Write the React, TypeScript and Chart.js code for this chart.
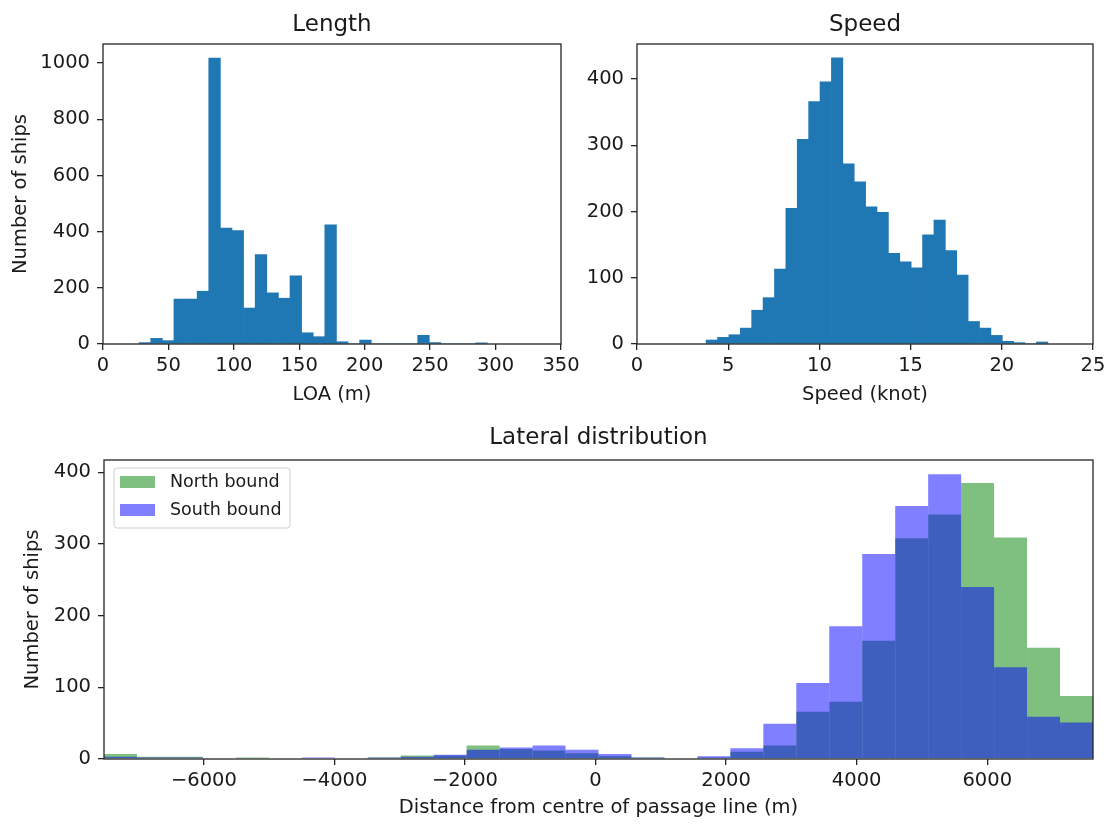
import React, { useEffect, useRef } from 'react';
import { Chart, registerables } from 'chart.js';

Chart.register(...registerables);

const FONT = 'DejaVu Sans';
const TEXT = '#1a1a1a';
const SPINE = '#262626';
const TICK_SIZE = 19.5;
const TITLE_SIZE = 23;
const LEGEND_SIZE = 17.5;

// ---------- Length histogram ----------
const lengthBinStart = 27.6;
const lengthBinWidth = 8.87;
const lengthCounts = [5, 20, 12, 160, 160, 188, 1018, 413, 404, 128, 318, 182, 163, 243, 40, 26, 424, 8, 0, 14, 0, 0, 0, 0, 31, 5, 0, 0, 0, 4];
const lengthXTicks = [0, 50, 100, 150, 200, 250, 300, 350];
const lengthYTicks = [0, 200, 400, 600, 800, 1000];

// ---------- Speed histogram ----------
const speedBinStart = 3.79;
const speedBinWidth = 0.6245;
const speedCounts = [6, 10, 14, 24, 51, 70, 113, 205, 309, 366, 396, 432, 272, 245, 207, 199, 137, 124, 115, 165, 187, 141, 104, 34, 24, 13, 4, 2, 0, 3];
const speedXTicks = [0, 5, 10, 15, 20, 25];
const speedYTicks = [0, 100, 200, 300, 400];

// ---------- Lateral distribution ----------
const lateralBinStart = -7530;
const lateralBinWidth = 505;
const northCounts = [7, 3, 3, 0, 2, 0, 1, 0, 2, 5, 5, 19, 14, 12, 8, 4, 2, 1, 2, 10, 19, 66, 80, 165, 308, 341, 385, 309, 155, 88];
const southCounts = [3, 2, 2, 0, 0, 0, 2, 1, 2, 3, 6, 13, 16, 19, 13, 7, 2, 1, 4, 15, 49, 106, 185, 286, 353, 397, 240, 128, 59, 51];
const lateralXTicks = [-6000, -4000, -2000, 0, 2000, 4000, 6000];
const lateralYTicks = [0, 100, 200, 300, 400];

const centers = (start: number, width: number, n: number) =>
  Array.from({ length: n }, (_, i) => start + (i + 0.5) * width);

const toPoints = (start: number, width: number, counts: number[]) => {
  const c = centers(start, width, counts.length);
  return counts.map((y, i) => ({ x: c[i], y }));
};

const fmt = (v: number) => (v < 0 ? '\u2212' + Math.abs(v) : String(v));

const framePlugin = {
  id: 'frame',
  afterDatasetsDraw(chart: any) {
    const { ctx, chartArea: a } = chart;
    ctx.save();
    ctx.strokeStyle = SPINE;
    ctx.lineWidth = 1.3;
    ctx.strokeRect(a.left, a.top, a.right - a.left, a.bottom - a.top);
    ctx.restore();
  },
};

const boxLegendPlugin = {
  id: 'boxLegend',
  afterDraw(chart: any, _args: any, opts: any) {
    if (!opts || !opts.display) return;
    const { ctx, chartArea: a } = chart;
    const x = a.left + 10;
    const y = a.top + 8;
    const w = 176;
    const h = 60;
    ctx.save();
    ctx.beginPath();
    if (ctx.roundRect) ctx.roundRect(x, y, w, h, 3);
    else ctx.rect(x, y, w, h);
    ctx.fillStyle = 'rgba(255,255,255,0.8)';
    ctx.fill();
    ctx.strokeStyle = '#d0d0d0';
    ctx.lineWidth = 1;
    ctx.stroke();
    const ds = chart.data.datasets;
    ds.forEach((d: any, i: number) => {
      const cy = y + 14 + i * 28;
      ctx.fillStyle = d.backgroundColor;
      ctx.fillRect(x + 6, cy - 6, 35, 12);
      ctx.fillStyle = TEXT;
      ctx.font = `${LEGEND_SIZE}px "${FONT}"`;
      ctx.textBaseline = 'middle';
      ctx.textAlign = 'left';
      ctx.fillText(d.label, x + 56, cy);
    });
    ctx.restore();
  },
};

type Box = { left: number; top: number; width: number; height: number };
type Area = { left: number; top: number; right: number; bottom: number };

type HistProps = {
  box: Box;
  area: Area;
  title: string;
  titleCenterY: number;
  xLabel: string;
  xLabelCenterY: number;
  yLabel?: string;
  yLabelCenterX?: number;
  xMin: number;
  xMax: number;
  xTicks: number[];
  yMax: number;
  yTicks: number[];
  datasets: any[];
  legend?: boolean;
};

function Histogram(p: HistProps) {
  const ref = useRef<HTMLCanvasElement>(null);
  useEffect(() => {
    if (!ref.current) return;
    const lh = TICK_SIZE * 1.2;
    const tlh = TITLE_SIZE * 1.2;
    const titleTop = p.titleCenterY - p.box.top - tlh / 2;
    const titleBottom = p.area.top - p.box.top - titleTop - tlh;
    const yWidth = p.area.left - p.box.left;
    const xHeight = p.box.top + p.box.height - p.area.bottom;
    const xTitleBottom = p.box.top + p.box.height - lh / 2 - p.xLabelCenterY;
    const yTitleTop = (p.yLabelCenterX ?? 0) - p.box.left - lh / 2;
    const tickFont = { family: FONT, size: TICK_SIZE };
    const grid = {
      display: true,
      drawOnChartArea: false,
      drawTicks: true,
      tickLength: 6,
      color: SPINE,
      lineWidth: 1.3,
    };
    const chart = new Chart(ref.current, {
      type: 'bar',
      data: { datasets: p.datasets },
      plugins: [framePlugin, boxLegendPlugin],
      options: {
        animation: false,
        responsive: false,
        maintainAspectRatio: false,
        events: [],
        layout: {
          padding: {
            left: 0,
            top: 0,
            right: p.box.width - (p.area.right - p.box.left),
            bottom: 0,
          },
        },
        datasets: {
          bar: {
            grouped: false,
            barPercentage: 1,
            categoryPercentage: 1,
            borderWidth: 0,
          },
        },
        plugins: {
          legend: { display: false },
          tooltip: { enabled: false },
          title: {
            display: true,
            text: p.title,
            fullSize: false,
            color: TEXT,
            font: { family: FONT, size: TITLE_SIZE, weight: 'normal' },
            padding: { top: titleTop, bottom: titleBottom },
          },
          boxLegend: { display: !!p.legend },
        } as any,
        scales: {
          x: {
            type: 'linear',
            min: p.xMin,
            max: p.xMax,
            offset: false,
            grid: { ...grid, offset: false },
            border: { display: false },
            afterBuildTicks: (s: any) => {
              s.ticks = p.xTicks.map((v) => ({ value: v }));
            },
            afterFit: (s: any) => {
              s.height = xHeight;
            },
            ticks: {
              color: TEXT,
              font: tickFont,
              padding: 4.5,
              maxRotation: 0,
              autoSkip: false,
              callback: (v: any) => fmt(Number(v)),
            },
            title: {
              display: true,
              text: p.xLabel,
              color: TEXT,
              font: tickFont,
              padding: { top: 0, bottom: xTitleBottom },
            },
          },
          y: {
            type: 'linear',
            min: 0,
            max: p.yMax,
            grid,
            border: { display: false },
            afterBuildTicks: (s: any) => {
              s.ticks = p.yTicks.map((v) => ({ value: v }));
            },
            afterFit: (s: any) => {
              s.width = yWidth;
            },
            ticks: {
              color: TEXT,
              font: tickFont,
              padding: 7,
              autoSkip: false,
              callback: (v: any) => fmt(Number(v)),
            },
            title: {
              display: !!p.yLabel,
              text: p.yLabel || '',
              color: TEXT,
              font: tickFont,
              padding: { top: yTitleTop, bottom: 0 },
            },
          },
        } as any,
      } as any,
    });
    return () => chart.destroy();
  }, []);
  return (
    <canvas
      ref={ref}
      width={p.box.width}
      height={p.box.height}
      style={{
        position: 'absolute',
        left: p.box.left,
        top: p.box.top,
        width: p.box.width,
        height: p.box.height,
      }}
    />
  );
}

export default function App() {
  const lengthData = [
    {
      label: 'Length',
      data: toPoints(lengthBinStart, lengthBinWidth, lengthCounts),
      backgroundColor: '#1f77b4',
    },
  ];
  const speedData = [
    {
      label: 'Speed',
      data: toPoints(speedBinStart, speedBinWidth, speedCounts),
      backgroundColor: '#1f77b4',
    },
  ];
  const lateralData = [
    {
      label: 'North bound',
      data: toPoints(lateralBinStart, lateralBinWidth, northCounts),
      backgroundColor: 'rgba(0,128,0,0.5)',
      order: 1,
      inflateAmount: 0,
    },
    {
      label: 'South bound',
      data: toPoints(lateralBinStart, lateralBinWidth, southCounts),
      backgroundColor: 'rgba(0,0,255,0.5)',
      order: 0,
      inflateAmount: 0,
    },
  ];
  return (
    <div
      style={{
        position: 'absolute',
        left: 0,
        top: 0,
        width: 1116,
        height: 826,
        background: '#ffffff',
        overflow: 'hidden',
      }}
    >
      <Histogram
        box={{ left: 0, top: 0, width: 610, height: 410 }}
        area={{ left: 103, top: 44, right: 561, bottom: 344 }}
        title="Length"
        titleCenterY={25}
        xLabel="LOA (m)"
        xLabelCenterY={395}
        yLabel="Number of ships"
        yLabelCenterX={21}
        xMin={0}
        xMax={350}
        xTicks={lengthXTicks}
        yMax={1068}
        yTicks={lengthYTicks}
        datasets={lengthData}
      />
      <Histogram
        box={{ left: 580, top: 0, width: 536, height: 410 }}
        area={{ left: 637, top: 44, right: 1093, bottom: 344 }}
        title="Speed"
        titleCenterY={25}
        xLabel="Speed (knot)"
        xLabelCenterY={395}
        xMin={0}
        xMax={25}
        xTicks={speedXTicks}
        yMax={453}
        yTicks={speedYTicks}
        datasets={speedData}
      />
      <Histogram
        box={{ left: 0, top: 410, width: 1116, height: 416 }}
        area={{ left: 104, top: 460, right: 1093, bottom: 759 }}
        title="Lateral distribution"
        titleCenterY={438}
        xLabel="Distance from centre of passage line (m)"
        xLabelCenterY={808}
        yLabel="Number of ships"
        yLabelCenterX={32.5}
        xMin={-7530}
        xMax={7620}
        xTicks={lateralXTicks}
        yMax={417}
        yTicks={lateralYTicks}
        datasets={lateralData}
        legend
      />
    </div>
  );
}
